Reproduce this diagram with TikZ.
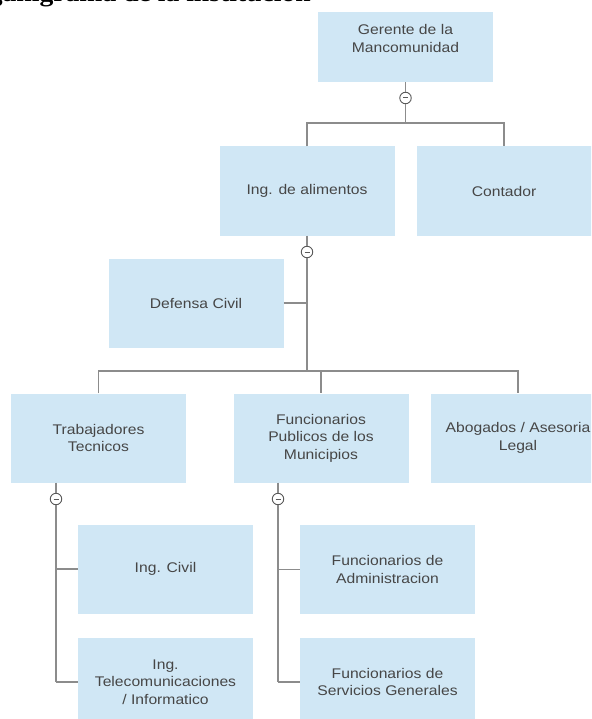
\documentclass[tikz,border=0pt]{standalone}
\usepackage{fontspec}
\setmainfont[FakeStretch=1.12]{Liberation Sans}
\newfontfamily\titlefont[FakeStretch=1.12]{Liberation Serif}
\definecolor{boxfill}{RGB}{208,231,245}
\definecolor{linegray}{RGB}{140,140,140}
\definecolor{txtgray}{RGB}{70,70,70}
\definecolor{knobgray}{RGB}{90,90,90}
\begin{document}
\begin{tikzpicture}[x=1pt,y=-1pt,
  orgbox/.style={fill=boxfill,draw=none,minimum width=175pt,minimum height=89pt,
    align=center,text=txtgray,inner sep=0pt,
    font=\fontsize{14pt}{17.5pt}\selectfont},
  conn/.style={draw=linegray,line width=1.4pt},
  knob/.style={circle,draw=knobgray,fill=white,line width=0.9pt,minimum size=11.5pt,inner sep=0pt,
    path picture={\draw[knobgray,line width=1pt] ([xshift=-2.5pt]path picture bounding box.center) -- ([xshift=2.5pt]path picture bounding box.center);}}]
\useasboundingbox (0,0) rectangle (591,719);
\clip (0,0) rectangle (591,719);

% title (cut off at the top)
\node[anchor=base east,inner sep=0pt,font=\titlefont\bfseries\fontsize{24.7pt}{28pt}\selectfont] (title) at (311,2) {Organigrama de la institución};

% boxes
\node[orgbox,minimum height=70pt] (ger) at (405.5,47) {Gerente de la\\Mancomunidad\\\mbox{}};
\node[orgbox] (alim) at (307,191) {Ing. de alimentos};
\node[orgbox] (cont) at (504,191) {Contador};
\node[orgbox] (def) at (196,303) {Defensa Civil};
\node[orgbox] (trab) at (98.5,438) {Trabajadores\\Tecnicos};
\node[orgbox] (func) at (321,438) {Funcionarios\\Publicos de los\\Municipios};
\node[orgbox] (abog) at (518,438) {Abogados / Asesoria\\Legal};
\node[orgbox] (civ) at (165.5,569) {Ing. Civil};
\node[orgbox] (tel) at (165.5,682) {Ing.\\Telecomunicaciones\\/ Informatico};
\node[orgbox] (adm) at (387.5,569.5) {Funcionarios de\\Administracion};
\node[orgbox] (srv) at (387.5,682) {Funcionarios de\\Servicios Generales};

% collapse knobs
\node[knob] (k1) at (405.5,98) {};
\node[knob] (k2) at (307,252) {};
\node[knob] (k3) at (56,499) {};
\node[knob] (k4) at (278,499) {};

% junction points
\coordinate (j1) at (405.5,123);
\coordinate (j2) at (307,371);
\coordinate (j2d) at (307,303);
\coordinate (j3a) at (56,569);
\coordinate (j3b) at (56,682);
\coordinate (j4a) at (278,569.5);
\coordinate (j4b) at (278,682);

% connectors
\draw[conn] (ger.south) -- (k1.north);
\draw[conn] (k1.south) -- (j1);
\draw[conn] (alim.north) |- (j1) -| (cont.north);

\draw[conn] (alim.south) -- (k2.north);
\draw[conn] (k2.south) -- (j2);
\draw[conn] (def.east) -- (j2d);
\draw[conn] (trab.north) |- (j2) -| (abog.north);
\draw[conn] (j2) -| (func.north);

\draw[conn] (trab.south -| k3) -- (k3.north);
\draw[conn] (k3.south) -- (j3b);
\draw[conn] (j3a) -- (civ.west);
\draw[conn] (j3b) -- (tel.west);

\draw[conn] (func.south -| k4) -- (k4.north);
\draw[conn] (k4.south) -- (j4b);
\draw[conn] (j4a) -- (adm.west);
\draw[conn] (j4b) -- (srv.west);
\end{tikzpicture}
\end{document}
